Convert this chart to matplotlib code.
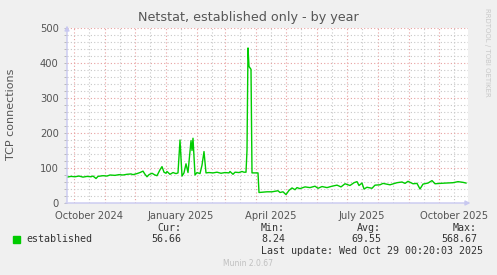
import numpy as np
import matplotlib
matplotlib.use('Agg')
import matplotlib.pyplot as plt
import matplotlib.dates as mdates

# data: day offsets from the graph start and TCP connection values
start = np.datetime64('2024-09-24')
days = [0, 4, 8, 12, 16, 20, 24, 26, 29, 31, 36, 40, 43, 48, 52, 56, 60, 64, 66, 70,
        73, 76, 78, 80, 82, 85, 88, 90, 93, 95, 97, 99, 100, 103, 106, 109, 111, 113, 115, 117,
        119, 121, 124, 125, 126, 128, 130, 133, 135, 137, 139, 142, 146, 150, 154, 158, 162, 163, 166, 168,
        172, 175, 177, 179, 180, 181, 182, 184, 185, 191, 192, 196, 200, 205, 211, 213, 216, 219, 222, 225,
        228, 230, 233, 238, 243, 248, 251, 255, 260, 265, 270, 274, 278, 283, 287, 290, 292, 295, 297, 300,
        305, 308, 313, 316, 323, 330, 335, 338, 341, 346, 350, 353, 356, 361, 365, 368, 373, 379, 386, 391, 396, 399]
established = [74, 76, 75, 77, 74, 76, 75, 77, 70, 76, 78, 77, 80, 79, 81, 80, 82, 83, 81, 84,
               87, 91, 82, 75, 81, 85, 80, 78, 95, 104, 88, 85, 90, 82, 87, 84, 86, 180, 77, 86,
               112, 87, 178, 150, 185, 80, 87, 84, 108, 147, 86, 87, 86, 88, 85, 87, 86, 90, 82, 88,
               87, 90, 88, 88, 150, 443, 390, 382, 86, 86, 30, 31, 32, 32, 35, 30, 32, 24, 36, 43,
               38, 44, 41, 46, 44, 48, 42, 47, 44, 48, 51, 46, 55, 50, 58, 61, 50, 57, 40, 45,
               42, 51, 52, 56, 52, 58, 60, 56, 62, 55, 56, 40, 54, 57, 64, 55, 56, 57, 58, 61, 59, 57]

x_labels = ['October 2024', 'January 2025', 'April 2025', 'July 2025', 'October 2025']
x_label_dates = ['2024-10-16', '2025-01-16', '2025-04-16', '2025-07-16', '2025-10-16']

legend_name = 'established'
stats_head = ['Cur:', 'Min:', 'Avg:', 'Max:']
stats_vals = ['56.66', '8.24', '69.55', '568.67']

dates = start + np.array(days).astype('timedelta64[D]')

fig = plt.figure(figsize=(4.97, 2.75), dpi=100, facecolor='#f0f0f0')
ax = fig.add_axes([67/497, 1 - 203/275, 401/497, 175/275])
ax.set_facecolor('white')

ax.plot(dates, established, color='#00cc00', lw=1.0, zorder=3)

ax.set_xlim(start, start + np.timedelta64(401, 'D'))
ax.set_ylim(0, 500)

# grid
months = mdates.MonthLocator(bymonthday=1)
mids = mdates.MonthLocator(bymonthday=16)
xmin, xmax = ax.get_xlim()
for d in months.tick_values(mdates.num2date(xmin), mdates.num2date(xmax)):
    if xmin < d < xmax:
        ax.axvline(d, color='#e8a0a0', lw=0.8, ls=(0, (1, 2)), zorder=1)
for d in mids.tick_values(mdates.num2date(xmin), mdates.num2date(xmax)):
    if xmin < d < xmax:
        ax.axvline(d, color='#c8c8c8', lw=0.8, ls=(0, (1, 2)), zorder=1)
for v in range(20, 501, 20):
    if v % 100 == 0:
        ax.axhline(v, color='#e8a0a0', lw=0.8, ls=(0, (1, 2)), zorder=1)
    else:
        ax.axhline(v, color='#c8c8c8', lw=0.8, ls=(0, (1, 2)), zorder=1)

for s in ax.spines.values():
    s.set_visible(False)

ax.set_yticks(range(0, 501, 100))
ax.set_yticks(range(0, 501, 20), minor=True)
ax.set_xticks([np.datetime64(d) for d in x_label_dates])
ax.set_xticklabels(x_labels)
ax.tick_params(axis='both', length=0, labelsize=7.2, labelcolor='#555555')
ax.tick_params(axis='x', pad=6)
ax.tick_params(axis='y', which='both', length=2, color='#b0b0b0', pad=4, width=0.6)

# axis lines with arrows
axc = '#c8c8f0'
ax.annotate('', xy=(1.013, 0), xytext=(-0.01, 0), xycoords='axes fraction',
            arrowprops=dict(arrowstyle='-|>', color=axc, lw=1, mutation_scale=7))
ax.annotate('', xy=(0, 1.03), xytext=(0, -0.01), xycoords='axes fraction',
            arrowprops=dict(arrowstyle='-|>', color=axc, lw=1, mutation_scale=7))

fig.text(248/497, 1 - 18/275, 'Netstat, established only - by year', ha='center', va='center',
         fontsize=9.2, color='#555555')
fig.text(11/497, 1 - 114/275, 'TCP connections', rotation=90, ha='center', va='center',
         fontsize=8, color='#555555')
fig.text(487/497, 1 - 52/275, 'RRDTOOL / TOBI OETIKER', rotation=270, ha='center', va='center',
         fontsize=5, color='#c8c8c8')

# legend and stats
mono = 'DejaVu Sans Mono'
fig.patches.append(plt.Rectangle((13/497, 1 - 243/275), 7/497, 7/275, transform=fig.transFigure,
                                 color='#00cc00'))
fig.text(26/497, 1 - 239.5/275, legend_name, fontsize=7.2, family=mono, color='#333333', va='center')
col_right = [181, 285, 381, 477]
for hd, val, cr in zip(stats_head, stats_vals, col_right):
    fig.text(cr/497, 1 - 228/275, hd, fontsize=7.2, family=mono, color='#333333', va='center', ha='right')
    fig.text(cr/497, 1 - 239.5/275, val, fontsize=7.2, family=mono, color='#333333', va='center', ha='right')
fig.text(483/497, 1 - 251/275, 'Last update: Wed Oct 29 00:20:03 2025', fontsize=7.2, family=mono,
         color='#333333', va='center', ha='right')
fig.text(248/497, 1 - 264/275, 'Munin 2.0.67', fontsize=5.5, color='#c0c0c0', va='center', ha='center')

fig.savefig('out.png', dpi=100, facecolor=fig.get_facecolor())
